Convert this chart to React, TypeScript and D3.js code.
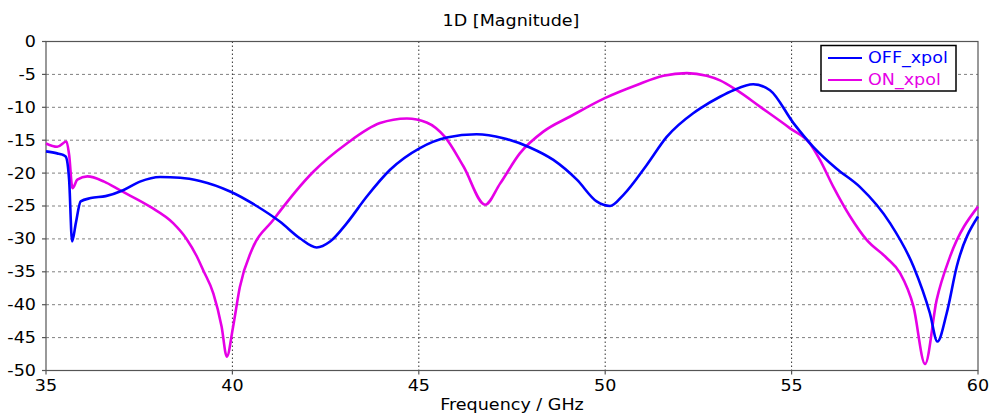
import React from "react";
import * as d3 from "d3";

const offFreq = [35, 35.3, 35.44, 35.53, 35.62, 35.7, 35.8, 35.93, 36.2, 36.6, 37.07, 37.52, 38.06, 38.6, 39.13, 39.94, 40.65, 41.28, 41.81, 42.26, 42.62, 43.07, 43.6, 44.23, 45.03, 45.75, 46.55, 47.27, 47.98, 48.61, 49.24, 49.77, 50.13, 50.49, 51.11, 51.65, 52.36, 52.54, 53.08, 53.44, 53.97, 54.42, 55.05, 55.58, 56.2, 56.83, 57.64, 58.27, 58.71, 58.91, 59.16, 59.43, 60];
const offVal = [-16.7, -17.0, -17.2, -17.5, -21.0, -30.4, -27.6, -24.3, -23.8, -23.5, -22.6, -21.3, -20.6, -20.7, -21.2, -22.8, -25.0, -27.4, -29.9, -31.3, -30.4, -27.6, -23.6, -19.5, -16.2, -14.6, -14.1, -14.7, -16.1, -18.0, -21.0, -24.3, -25.0, -23.3, -18.8, -14.5, -10.9, -10.2, -8.4, -7.4, -6.5, -7.4, -12.4, -16.0, -19.3, -22.1, -27.6, -34.2, -41.3, -45.6, -41.3, -34.2, -26.6];

const onFreq = [35, 35.3, 35.55, 35.62, 35.71, 35.84, 36.11, 36.56, 36.98, 37.79, 38.41, 38.77, 39.04, 39.22, 39.49, 39.71, 39.85, 40.02, 40.2, 40.52, 41.1, 42.17, 43.07, 43.96, 44.68, 45.21, 45.7, 46.2, 46.78, 47.18, 47.71, 48.34, 49.06, 49.99, 50.85, 51.56, 52.19, 52.72, 53.08, 53.53, 54.15, 54.96, 55.49, 55.76, 56.12, 56.57, 57.02, 57.55, 57.91, 58.27, 58.58, 58.89, 59.25, 60];
const onVal = [-15.5, -16.0, -15.2, -17.2, -22.3, -21.0, -20.5, -21.3, -22.6, -25.1, -27.6, -30.0, -32.6, -34.8, -38.3, -43.3, -47.9, -43.3, -37.3, -31.7, -27.1, -19.8, -15.5, -12.4, -11.7, -12.3, -14.5, -19.0, -24.8, -21.6, -17.0, -13.7, -11.4, -8.6, -6.6, -5.2, -4.8, -5.2, -5.9, -7.4, -9.9, -13.2, -15.5, -18.0, -22.1, -26.6, -30.2, -32.9, -35.2, -40.3, -49.0, -39.3, -32.7, -25.1];

const xTicks = [35, 40, 45, 50, 55, 60];
const yTicks = [0, -5, -10, -15, -20, -25, -30, -35, -40, -45, -50];

const seriesNames = ["OFF_xpol", "ON_xpol"];
const seriesColors = ["#0000ff", "#e600e6"];

const W = 991;
const H = 415;
const L = 46, R = 978, T = 41.5, B = 370.5;
const FONT = "'DejaVu Sans', Verdana, sans-serif";
const SX = 1.17;

function Txt(props: { x: number; y: number; anchor?: string; fill?: string; dy?: string; children: React.ReactNode }) {
  const { x, y, anchor = "start", fill = "#000", dy, children } = props;
  return (
    <text
      transform={`translate(${x},${y}) scale(${SX},1)`}
      textAnchor={anchor}
      dy={dy}
      fontFamily={FONT}
      fontSize={15}
      fill={fill}
    >
      {children}
    </text>
  );
}

export default function App() {
  const x = d3.scaleLinear().domain([35, 60]).range([L, R]);
  const y = d3.scaleLinear().domain([-50, 0]).range([B, T]);
  const line = d3
    .line<[number, number]>()
    .x((d) => x(d[0]))
    .y((d) => y(d[1]))
    .curve(d3.curveMonotoneX);
  const offData = offFreq.map((f, i) => [f, offVal[i]] as [number, number]);
  const onData = onFreq.map((f, i) => [f, onVal[i]] as [number, number]);

  return (
    <svg width={W} height={H} style={{ position: "absolute", left: 0, top: 0, background: "#fff" }}>
      <rect x={0} y={0} width={W} height={H} fill="#fff" />
      <Txt x={511} y={26} anchor="middle">1D [Magnitude]</Txt>
      {yTicks.filter((t) => t !== 0 && t !== -50).map((t) => (
        <line key={"gy" + t} x1={L} x2={R} y1={y(t)} y2={y(t)} stroke="#808080" strokeWidth={1} strokeDasharray="3,3" />
      ))}
      {xTicks.filter((t) => t !== 35 && t !== 60).map((t) => (
        <line key={"gx" + t} x1={x(t)} x2={x(t)} y1={T} y2={B} stroke="#333" strokeWidth={1} strokeDasharray="1.5,2.5" />
      ))}
      <rect x={L} y={T} width={R - L} height={B - T} fill="none" stroke="#555" strokeWidth={1.2} />
      {yTicks.map((t) => (
        <g key={"ty" + t}>
          <line x1={L - 4} x2={L} y1={y(t)} y2={y(t)} stroke="#555" strokeWidth={1.2} />
          <Txt x={36} y={y(t)} dy="0.36em" anchor="end">{t}</Txt>
        </g>
      ))}
      {xTicks.map((t) => (
        <g key={"tx" + t}>
          <line x1={x(t)} x2={x(t)} y1={B} y2={B + 4} stroke="#555" strokeWidth={1.2} />
          <Txt x={x(t)} y={391} anchor="middle">{t}</Txt>
        </g>
      ))}
      <Txt x={512} y={410} anchor="middle">Frequency / GHz</Txt>
      <path d={line(onData) || ""} fill="none" stroke={seriesColors[1]} strokeWidth={2.6} strokeLinejoin="round" />
      <path d={line(offData) || ""} fill="none" stroke={seriesColors[0]} strokeWidth={2.6} strokeLinejoin="round" />
      <rect x={821} y={45.5} width={135} height={45.5} fill="#fff" stroke="#000" strokeWidth={1.5} />
      {seriesNames.map((n, i) => (
        <g key={n}>
          <line x1={828} x2={862} y1={58 + i * 22} y2={58 + i * 22} stroke={seriesColors[i]} strokeWidth={2} />
          <Txt x={868} y={58 + i * 22} dy="0.36em" fill={seriesColors[i]}>{n}</Txt>
        </g>
      ))}
    </svg>
  );
}
